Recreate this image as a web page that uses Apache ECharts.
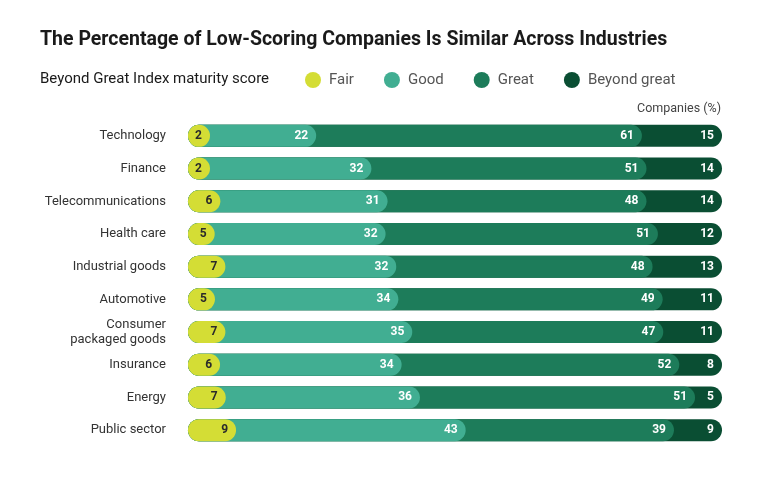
<!DOCTYPE html>
<html><head><meta charset="utf-8">
<script src="https://cdn.jsdelivr.net/npm/echarts@6/dist/echarts.min.js"></script>
<style>html,body{margin:0;padding:0;background:#fff}#c{width:768px;height:477px}</style>
</head><body><div id="c"></div>
<script>
var industries = ["Technology","Finance","Telecommunications","Health care","Industrial goods","Automotive","Consumer\npackaged goods","Insurance","Energy","Public sector"];
var fair = [2,2,6,5,7,5,7,6,7,9];
var good = [22,32,31,32,32,34,35,34,36,43];
var great = [61,51,48,51,48,49,47,52,51,39];
var beyond = [15,14,14,12,13,11,11,8,5,9];
var seriesNames = ["Fair","Good","Great","Beyond great"];
var colors = ["#d4dd35","#41ae92","#1d7c5a","#0a4e33"];
var FONT = "Roboto";

var raw = [fair, good, great, beyond];
var totals = industries.map(function(_, i){ return fair[i] + good[i] + great[i] + beyond[i]; });
var cum = [];
for (var s = 0; s < 4; s++) {
  cum.push(industries.map(function(_, i){
    var t = 0; for (var k = 0; k <= s; k++) t += raw[k][i]; return t / totals[i] * 100;
  }));
}
var series = [];
for (var s = 3; s >= 0; s--) {
  (function(s){
    series.push({
      name: seriesNames[s], type: 'bar', data: cum[s], barWidth: 22, barGap: '-100%',
      barMinHeight: s === 0 ? 22 : 0,
      itemStyle: { color: colors[s], borderRadius: 11 },
      label: { show: true, position: 'insideRight', distance: 8,
        color: s === 0 ? '#2b2b2b' : '#ffffff', fontFamily: FONT, fontWeight: 'bold', fontSize: 12,
        formatter: function(p){ return raw[s][p.dataIndex]; } },
      emphasis: { disabled: true }, animation: false
    });
  })(s);
}
var chart = echarts.init(document.getElementById('c'));
chart.setOption({
  animation: false,
  title: [
    { text: 'The Percentage of Low-Scoring Companies Is Similar Across Industries', left: 35, top: 25,
      textStyle: { fontFamily: FONT, fontWeight: 'bold', fontSize: 19.5, color: '#1a1a1a' } },
    { text: 'Beyond Great Index maturity score', left: 35, top: 67,
      textStyle: { fontFamily: FONT, fontWeight: 'normal', fontSize: 15, color: '#1a1a1a' } },
    { text: 'Companies (%)', right: 42, top: 97,
      textStyle: { fontFamily: FONT, fontWeight: 'normal', fontSize: 12.5, color: '#444' } }
  ],
  legend: {
    data: seriesNames, left: 300, top: 67, icon: 'circle', itemWidth: 16, itemHeight: 16, itemGap: 30,
    textStyle: { fontFamily: FONT, fontSize: 15, color: '#555', padding: [0, 0, 0, 3] }, selectedMode: false
  },
  grid: { left: 188, right: 46, top: 119.5, bottom: 477 - 446.5 },
  xAxis: { type: 'value', min: 0, max: 100, show: false },
  yAxis: { type: 'category', data: industries, inverse: true,
    axisLine: { show: false }, axisTick: { show: false },
    axisLabel: { margin: 22, fontFamily: FONT, fontSize: 13, color: '#333', lineHeight: 15, align: 'right' } },
  series: series
});
</script></body></html>
